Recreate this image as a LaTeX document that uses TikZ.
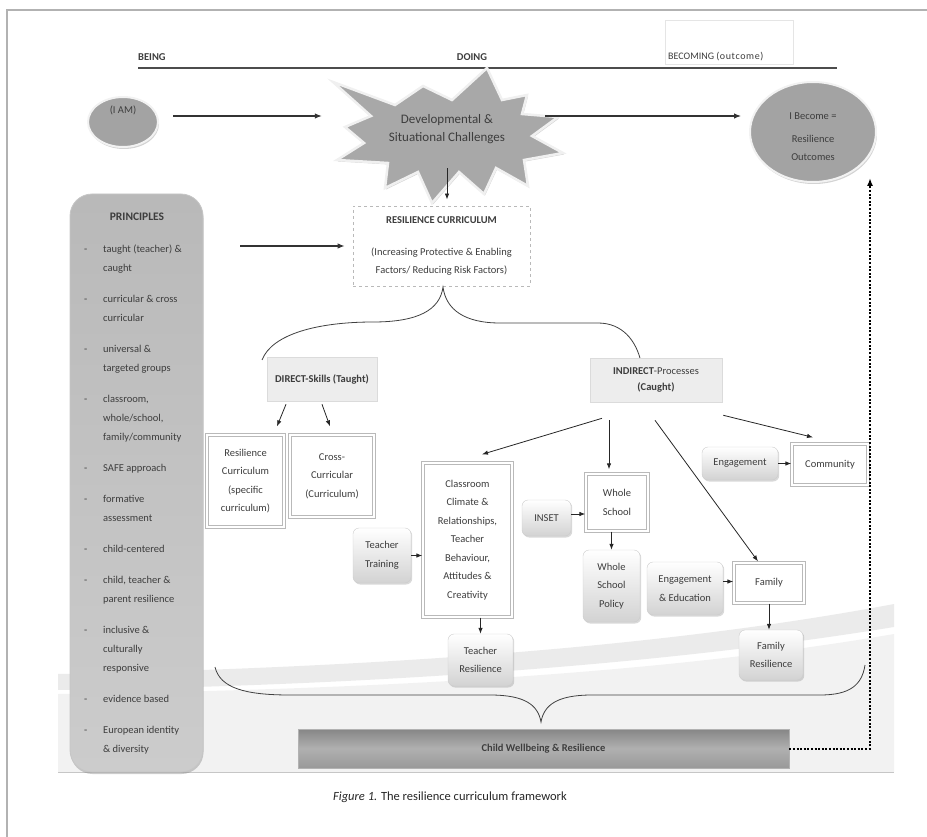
\documentclass[tikz,border=0pt]{standalone}
\usepackage{fontspec}
\setmainfont{Carlito}
\usetikzlibrary{arrows.meta,calc,shadows,shapes.geometric}

\definecolor{inkgray}{gray}{0.24}

\newcommand\dashitem{\makebox[19pt][l]{-}}
\newcommand\noitem{\hspace*{19pt}}

\tikzset{
  arr/.style={draw=black!85, line width=0.8pt, -{Latex[length=6pt,width=4.5pt]}},
  bigarr/.style={draw=black!80, line width=1.1pt, -{Latex[length=7pt,width=5.5pt]}},
  dotarr/.style={draw=black, line width=2pt, dash pattern=on 2pt off 1.6pt, -{Latex[length=8pt,width=6pt]}},
  dblbox/.style={draw=gray!55, line width=1.3pt, double=white, double distance=1.4pt, fill=white, align=center},
  softbox/.style={draw=gray!40, rounded corners=6pt, top color=white, bottom color=gray!35, align=center,
    drop shadow={shadow xshift=1.2pt, shadow yshift=-1.5pt, opacity=0.3}},
  catbox/.style={fill=gray!14, draw=gray!28, line width=0.6pt, align=center},
  ell/.style={ellipse, fill=gray!72, draw=gray!10, line width=2pt, align=center,
    drop shadow={shadow xshift=1pt, shadow yshift=-2pt, opacity=0.35}},
  hdr/.style={font=\bfseries\fontsize{10.5}{12}\selectfont}
}

\begin{document}
\begin{tikzpicture}[x=1pt,y=-1pt,
    every node/.style={font=\fontsize{10.5}{18.5}\selectfont, text=inkgray, inner sep=0pt}]
  \useasboundingbox (0,0) rectangle (927,837);
  % Rahmen
  \draw[gray!60, line width=1.2pt] (7,837) -- (7,10) -- (927,10);
  % background bands
  \fill[gray!16] (58,674) .. controls (350,668) and (650,650) .. (894,604) -- (894,627) .. controls (650,667) and (350,686) .. (58,690) -- cycle;
  \fill[gray!10] (58,694) .. controls (350,690) and (650,676) .. (894,634) -- (894,772) -- (58,772) -- cycle;
  \draw[gray!45, line width=0.8pt] (58,772) -- (894,772);

  % being / doing / becoming
  \draw[black!70, line width=2pt] (138,68) -- (837,68);
  \node[hdr, anchor=west] (being) at (138,57) {BEING};
  \node[hdr] (doing) at (472,57) {DOING};
  \node[draw=gray!20, line width=0.5pt, minimum width=128, minimum height=44] (bcmbox) at (729,42) {};
  \node[anchor=west, font=\fontsize{10}{11}\selectfont] (bcm) at (668,57) {BECOMING {\addfontfeature{LetterSpace=6}(outcome)}};

  % I AM
  \node[ell, minimum width=70, minimum height=50] (iam) at (123,122) {(I AM)\\[5.5pt]\mbox{}};
  % Stern
  \filldraw[fill=gray!68, draw=gray!12, line width=2.5pt, line join=miter,
    drop shadow={shadow xshift=1pt, shadow yshift=-1.5pt, opacity=0.35}]
    (487,68) -- (502,100) -- (527,95) -- (522,114) -- (558,117) -- (532,136) -- (563,153) -- (524,160)
    -- (528,186) -- (496,168) -- (484,194) -- (459,172) -- (432,203) -- (418,172) -- (385,188) -- (388,163)
    -- (337,160) -- (364,143) -- (345,127) -- (371,116) -- (333,82) -- (395,105) -- (423,86) -- (452,100) -- cycle;
  \node[align=center, minimum width=250, minimum height=78, font=\fontsize{13}{18}\selectfont] (burst) at (447,129) {Developmental \&\\Situational Challenges};
  % I Become
  \node[ell, minimum width=126, minimum height=100] (ibecome) at (813,132) {\mbox{}\\[-1.5pt]I Become =\\[4pt]Resilience\\Outcomes};

  \draw[bigarr, shorten <=14pt] ($(iam.east)+(0,-6)$) -- ($(burst.west)+(0,-13)$);
  \draw[bigarr, shorten >=8pt] ($(burst.east)+(-27,-13)$) -- ($(ibecome.west)+(0,-16)$);

  % Resilience curriculum
  \node[draw=gray!55, dashed, line width=0.8pt, minimum width=177, minimum height=80, align=center] (curr) at (441.5,246)
    {\textbf{RESILIENCE CURRICULUM}\\[13.5pt](Increasing Protective \& Enabling\\Factors/ Reducing Risk Factors)};
  \draw[arr, shorten >=6pt] (burst.south) -- (burst.south |- curr.north);

  % principles
  \node[draw=gray!45, line width=0.8pt, rounded corners=22pt, top color=gray!55, bottom color=gray!40,
    minimum width=133, minimum height=578, drop shadow={shadow xshift=0.5pt, shadow yshift=-2pt, opacity=0.4}] (princ) at (136.5,483) {};
  \node[font=\bfseries\fontsize{11.5}{13}\selectfont] (phead) at (137,217) {PRINCIPLES};
  \node[anchor=north west, align=left, font=\fontsize{10.5}{19}\selectfont] (plist) at (84,245) {%
    \dashitem taught (teacher) \&\\ \noitem caught\\[12pt]
    \dashitem curricular \& cross\\ \noitem curricular\\[12pt]
    \dashitem universal \&\\ \noitem targeted groups\\[12pt]
    \dashitem classroom,\\ \noitem whole/school,\\ \noitem family/community\\[12pt]
    \dashitem SAFE approach\\[12pt]
    \dashitem formative\\ \noitem assessment\\[12pt]
    \dashitem child-centered\\[12pt]
    \dashitem child, teacher \&\\ \noitem parent resilience\\[12pt]
    \dashitem inclusive \&\\ \noitem culturally\\ \noitem responsive\\[12pt]
    \dashitem evidence based\\[12pt]
    \dashitem European identity\\ \noitem \& diversity};
  \draw[bigarr, shorten <=37pt, shorten >=8pt] (princ.east |- curr.west) -- (curr.west);

  % Klammer oben
  \draw[black!75, line width=0.8pt] (262,360) .. controls (272,334) and (318,322) .. (373,322)
    .. controls (418,322) and (440,310) .. (443,287) .. controls (446,310) and (465,323) .. (500,323)
    -- (598,323) .. controls (622,323) and (636,340) .. (641,362);

  % direct / indirect
  \node[catbox, minimum width=110, minimum height=44] (direct) at (322,379) {\textbf{DIRECT-Skills (Taught)}};
  \node[catbox, minimum width=132, minimum height=44] (indirect) at (656,380) {\textbf{INDIRECT}-Processes\\[-2.5pt]\textbf{(Caught)}};

  \node[dblbox, minimum width=77, minimum height=92] (rescur) at (245.5,481) {Resilience\\Curriculum\\(specific\\curriculum)};
  \node[dblbox, minimum width=84, minimum height=82] (cross) at (332,476) {Cross-\\Curricular\\(Curriculum)};
  \draw[arr] ($(direct.south)+(-36,3)$) -- ($(rescur.north)+(31.5,-8)$);
  \draw[arr] ($(direct.south)+(0,3)$) -- ($(cross.north)+(-2,-8)$);

  % Klassenzimmer
  \node[dblbox, minimum width=89, minimum height=154] (classroom) at (467.5,540)
    {Classroom\\Climate \&\\Relationships,\\Teacher\\Behaviour,\\Attitudes \&\\Creativity};
  \node[softbox, minimum width=58, minimum height=55] (ttrain) at (382,555.5) {Teacher\\Training};
  \node[softbox, minimum width=65, minimum height=52] (tresil) at (480.5,660) {Teacher\\Resilience};
  \draw[arr] (ttrain.east) -- (ttrain.east -| classroom.west);
  \draw[arr] (tresil.north |- classroom.south) -- (tresil.north);

  % Schule
  \node[dblbox, minimum width=62, minimum height=57] (wschool) at (617,502.5) {Whole\\School};
  \node[softbox, minimum width=49, minimum height=36] (inset) at (546.5,518) {INSET};
  \node[softbox, minimum width=57, minimum height=72] (wspolicy) at (611.5,586) {Whole\\School\\Policy};
  \draw[arr] ($(inset.east)+(0,-4)$) -- ($(wschool.west)+(0,11.5)$);
  \draw[arr] (wspolicy.north |- wschool.south) -- (wspolicy.north);

  % Gemeinde / Familie
  \node[dblbox, minimum width=76, minimum height=41] (community) at (830,464.5) {Community};
  \node[softbox, minimum width=76, minimum height=33] (engcom) at (740,463.5) {Engagement};
  \node[dblbox, minimum width=70, minimum height=40] (family) at (769,583) {Family};
  \node[softbox, minimum width=76, minimum height=53] (engedu) at (685,588.5) {Engagement\\\& Education};
  \node[softbox, minimum width=64, minimum height=50] (fresil) at (771,655) {Family\\Resilience};
  \draw[arr] (engcom.east) -- (engcom.east -| community.west);
  \draw[arr] ($(engedu.east)+(0,-7)$) -- ($(family.west)+(0,-1.5)$);
  \draw[arr] (family.south) -- (family.south |- fresil.north);

  % Pfeile von indirect
  \draw[arr] ($(indirect.south)+(-54,16)$) -- ($(classroom.north)+(14.5,-8)$);
  \draw[arr] ($(indirect.south)+(-47,18)$) -- ($(wschool.north)+(-8,-4)$);
  \draw[arr] ($(indirect.south)+(-1,18)$) -- ($(family.north)+(-11,-1)$);
  \draw[arr] ($(indirect.south east)+(1,13)$) -- ($(community.north)+(-17,-6)$);

  % Klammer unten
  \draw[black!75, line width=0.8pt] (215,667) .. controls (220,688) and (245,695) .. (290,695)
    -- (490,695) .. controls (525,695) and (538,705) .. (541,722) .. controls (544,705) and (557,695) .. (592,695)
    -- (820,695) .. controls (850,695) and (862,685) .. (865,665);

  % child wellbeing
  \node[draw=gray!60, line width=0.6pt, top color=gray!95, bottom color=gray!80, middle color=gray!62,
    minimum width=491, minimum height=39] (cwb) at (543.5,748.5) {\textbf{Child Wellbeing \& Resilience}};
  \draw[dotarr] (cwb.east) -| ($(ibecome.south)+(57,-5)$);

  % Bildunterschrift
  \node[font=\fontsize{12.5}{14}\selectfont, text=black!85] (caption) at (450,797) {\textit{Figure 1.} The resilience curriculum framework};
\end{tikzpicture}
\end{document}
